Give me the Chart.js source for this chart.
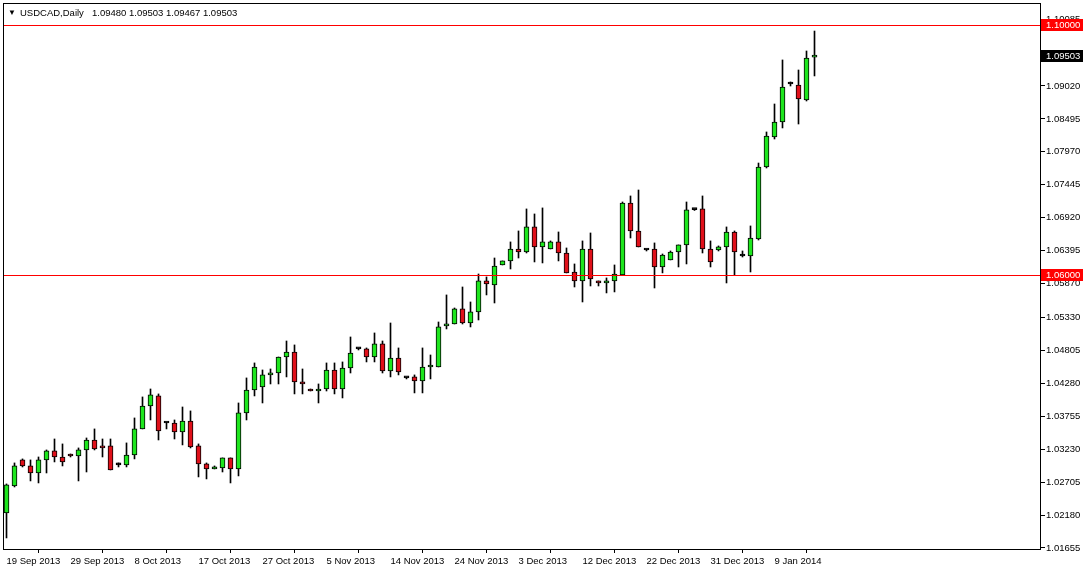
<!DOCTYPE html>
<html><head><meta charset="utf-8">
<script src="https://cdn.jsdelivr.net/npm/chart.js@4.4.1/dist/chart.umd.min.js"></script>
<style>html,body{margin:0;padding:0;background:#fff;overflow:hidden}#wrap{width:1085px;height:571px;position:relative}</style>
</head><body><div id="wrap"><canvas id="c" width="1085" height="571"></canvas></div>
<script>
const symbolTitle = "USDCAD,Daily";
const lastQuote = ["1.09480", "1.09503", "1.09467", "1.09503"];
const dates = ["19 Sep 2013","20 Sep 2013","22 Sep 2013","23 Sep 2013","24 Sep 2013","25 Sep 2013","26 Sep 2013","27 Sep 2013",
"29 Sep 2013","30 Sep 2013","1 Oct 2013","2 Oct 2013","3 Oct 2013","4 Oct 2013","6 Oct 2013","7 Oct 2013",
"8 Oct 2013","9 Oct 2013","10 Oct 2013","11 Oct 2013","13 Oct 2013","14 Oct 2013","15 Oct 2013","16 Oct 2013",
"17 Oct 2013","18 Oct 2013","20 Oct 2013","21 Oct 2013","22 Oct 2013","23 Oct 2013","24 Oct 2013","25 Oct 2013",
"27 Oct 2013","28 Oct 2013","29 Oct 2013","30 Oct 2013","31 Oct 2013","1 Nov 2013","3 Nov 2013","4 Nov 2013",
"5 Nov 2013","6 Nov 2013","7 Nov 2013","8 Nov 2013","10 Nov 2013","11 Nov 2013","12 Nov 2013","13 Nov 2013",
"14 Nov 2013","15 Nov 2013","17 Nov 2013","18 Nov 2013","19 Nov 2013","20 Nov 2013","21 Nov 2013","22 Nov 2013",
"24 Nov 2013","25 Nov 2013","26 Nov 2013","27 Nov 2013","28 Nov 2013","29 Nov 2013","1 Dec 2013","2 Dec 2013",
"3 Dec 2013","4 Dec 2013","5 Dec 2013","6 Dec 2013","8 Dec 2013","9 Dec 2013","10 Dec 2013","11 Dec 2013",
"12 Dec 2013","13 Dec 2013","15 Dec 2013","16 Dec 2013","17 Dec 2013","18 Dec 2013","19 Dec 2013","20 Dec 2013",
"22 Dec 2013","23 Dec 2013","24 Dec 2013","25 Dec 2013","26 Dec 2013","27 Dec 2013","29 Dec 2013","30 Dec 2013",
"31 Dec 2013","1 Jan 2014","2 Jan 2014","3 Jan 2014","5 Jan 2014","6 Jan 2014","7 Jan 2014","8 Jan 2014",
"9 Jan 2014","10 Jan 2014","12 Jan 2014","13 Jan 2014","14 Jan 2014","15 Jan 2014"];
const open = [1.02214,1.02644,1.03059,1.02963,1.02851,1.03059,1.03202,1.03106,
1.03154,1.03122,1.03218,1.03377,1.03258,1.03282,1.02979,1.02979,
1.03138,1.03553,1.03919,1.04079,1.03648,1.03648,1.03505,1.03680,
1.03282,1.02995,1.02915,1.02931,1.03091,1.02915,1.03808,1.04174,
1.04222,1.04414,1.04445,1.04700,1.04780,1.04302,1.04190,1.04158,
1.04190,1.04493,1.04190,1.04525,1.04828,1.04828,1.04700,1.04908,
1.04477,1.04684,1.04366,1.04382,1.04318,1.04541,1.04541,1.05195,
1.05226,1.05466,1.05242,1.05418,1.05912,1.05848,1.06167,1.06231,
1.06422,1.06374,1.06773,1.06454,1.06422,1.06534,1.06358,1.06055,
1.05912,1.06422,1.05912,1.05880,1.05912,1.06008,1.07155,1.06709,
1.06406,1.06422,1.06135,1.06247,1.06374,1.06486,1.07048,1.07060,
1.06422,1.06406,1.06454,1.06693,1.06310,1.06310,1.06581,1.07729,
1.08207,1.08446,1.09052,1.09036,1.08797,1.09480];
const high = [1.02676,1.03011,1.03075,1.03059,1.03106,1.03218,1.03393,1.03314,
1.03154,1.03250,1.03409,1.03553,1.03393,1.03393,1.03011,1.03330,
1.03728,1.04063,1.04190,1.04111,1.03664,1.03696,1.03903,1.03840,
1.03314,1.03011,1.02963,1.03091,1.03091,1.03967,1.04366,1.04605,
1.04493,1.04509,1.04700,1.04955,1.04892,1.04509,1.04190,1.04270,
1.04605,1.04605,1.04621,1.05019,1.04844,1.04844,1.05083,1.04955,
1.05242,1.04844,1.04382,1.04414,1.04844,1.04732,1.05258,1.05689,
1.05481,1.05816,1.05577,1.06023,1.05976,1.06278,1.06231,1.06534,
1.06709,1.07060,1.06980,1.07076,1.06550,1.06693,1.06438,1.06183,
1.06550,1.06677,1.05912,1.05960,1.06167,1.07171,1.07267,1.07362,
1.06422,1.06518,1.06342,1.06390,1.06486,1.07171,1.07060,1.07267,
1.06550,1.06470,1.06773,1.06709,1.06390,1.06789,1.07792,1.08287,
1.08733,1.09435,1.09084,1.09275,1.09578,1.09896];
const low = [1.01815,1.02628,1.02947,1.02724,1.02692,1.02851,1.03027,1.02963,
1.03106,1.02724,1.02867,1.03218,1.03106,1.02899,1.02947,1.02947,
1.03075,1.03553,1.03696,1.03377,1.03553,1.03393,1.03298,1.03250,
1.02788,1.02756,1.02915,1.02867,1.02692,1.02804,1.03696,1.04079,
1.03967,1.04270,1.04270,1.04382,1.04111,1.04111,1.04158,1.03967,
1.04158,1.04111,1.04047,1.04445,1.04812,1.04621,1.04621,1.04445,
1.04382,1.04414,1.04350,1.04127,1.04127,1.04350,1.04541,1.05147,
1.05226,1.05226,1.05179,1.05290,1.05689,1.05561,1.06167,1.06103,
1.06278,1.06358,1.06215,1.06199,1.06422,1.06231,1.06040,1.05816,
1.05577,1.05832,1.05832,1.05721,1.05737,1.06008,1.06597,1.06454,
1.06390,1.05800,1.06040,1.06247,1.06135,1.06183,1.07036,1.06358,
1.06135,1.06390,1.05880,1.06008,1.06294,1.06055,1.06565,1.07713,
1.08175,1.08351,1.09020,1.08414,1.08781,1.09180];
const close = [1.02660,1.02963,1.02963,1.02851,1.03059,1.03202,1.03106,1.03027,
1.03122,1.03218,1.03377,1.03234,1.03250,1.02899,1.02979,1.03138,
1.03553,1.03919,1.04095,1.03521,1.03648,1.03505,1.03680,1.03266,
1.02995,1.02915,1.02947,1.03091,1.02915,1.03808,1.04174,1.04541,
1.04414,1.04445,1.04700,1.04780,1.04302,1.04270,1.04158,1.04190,
1.04493,1.04190,1.04525,1.04764,1.04828,1.04700,1.04908,1.04477,
1.04684,1.04461,1.04366,1.04318,1.04541,1.04549,1.05179,1.05226,
1.05466,1.05242,1.05418,1.05912,1.05864,1.06151,1.06231,1.06422,
1.06374,1.06773,1.06454,1.06534,1.06534,1.06358,1.06040,1.05912,
1.06422,1.05944,1.05880,1.05912,1.06023,1.07155,1.06709,1.06454,
1.06406,1.06135,1.06326,1.06374,1.06486,1.07044,1.07048,1.06422,
1.06215,1.06454,1.06693,1.06374,1.06310,1.06597,1.07729,1.08223,
1.08446,1.09004,1.09052,1.08813,1.09466,1.09503];
const priceTicks = [1.01655,1.02180,1.02705,1.03230,1.03755,1.04280,1.04805,1.05330,1.05870,1.06395,1.06920,1.07445,1.07970,1.08495,1.09020,1.10085];
const levelLines = [1.10000, 1.06000];
const dateTickEvery = 8;

const UP = '#1ee61e', DOWN = '#e0101a', INK = '#000000', LEVEL = '#ff0000';
const FONT = {family: "'Liberation Sans', Arial, sans-serif", size: 9.5};

const idx = dates.map((d, i) => i);
const wickData = idx.map(i => ({x: i, y: [low[i], high[i]]}));
const bodyData = idx.map(i => ({x: i, y: [open[i], close[i]]}));
const bodyColors = idx.map(i => close[i] > open[i] + 0.00005 ? UP : (close[i] < open[i] - 0.00005 ? DOWN : INK));

const noPad = s => { s.paddingTop = 0; s.paddingBottom = 0; s.paddingLeft = 0; s.paddingRight = 0; };

const overlay = {
  id: 'overlay',
  afterDatasetsDraw(chart) {
    const {ctx, chartArea: a, scales: {y}} = chart;
    ctx.save();
    ctx.strokeStyle = LEVEL; ctx.lineWidth = 1;
    levelLines.forEach(v => {
      const py = Math.round(y.getPixelForValue(v)) + 0.5;
      ctx.beginPath(); ctx.moveTo(a.left, py); ctx.lineTo(a.right, py); ctx.stroke();
    });
    ctx.restore();
  },
  afterDraw(chart) {
    const {ctx, chartArea: a, scales: {y}} = chart;
    ctx.save();
    ctx.strokeStyle = INK; ctx.lineWidth = 1;
    ctx.strokeRect(a.left - 0.5, a.top - 0.5, a.right - a.left + 1, a.bottom - a.top + 1);
    const box = (v, bg) => {
      const py = Math.round(y.getPixelForValue(v));
      ctx.fillStyle = bg;
      ctx.fillRect(a.right + 1, py - 6, 42, 12);
      ctx.fillStyle = '#ffffff';
      ctx.font = FONT.size + 'px ' + FONT.family;
      ctx.textBaseline = 'middle'; ctx.textAlign = 'left';
      ctx.fillText(v.toFixed(5), a.right + 6, py + 0.5);
    };
    levelLines.forEach(v => box(v, '#ff0000'));
    box(close[close.length - 1], '#000000');
    ctx.fillStyle = INK;
    ctx.textBaseline = 'middle'; ctx.textAlign = 'left';
    ctx.font = '8px ' + FONT.family;
    ctx.fillText('\u25BC', 8, 13);
    ctx.font = FONT.size + 'px ' + FONT.family;
    ctx.fillText(symbolTitle, 20, 13);
    ctx.fillText(lastQuote.join(' '), 92, 13);
    ctx.restore();
  }
};

new Chart(document.getElementById('c'), {
  type: 'bar',
  data: {
    datasets: [
      {data: wickData, backgroundColor: INK, barThickness: 1, grouped: false, order: 2, borderWidth: 0},
      {data: bodyData, backgroundColor: bodyColors, borderColor: INK, borderWidth: 1, borderSkipped: false,
       barThickness: 5, minBarLength: 2, grouped: false, order: 1}
    ]
  },
  options: {
    responsive: false, animation: false, devicePixelRatio: 1,
    layout: {padding: {left: 4, top: 4, right: 0, bottom: 0}},
    plugins: {legend: {display: false}, tooltip: {enabled: false}},
    scales: {
      x: {
        type: 'linear', min: -0.3125, max: 129.1875, offset: false,
        afterBuildTicks: s => { s.ticks = idx.filter(i => i % dateTickEvery === 0).map(v => ({value: v})); },
        afterFit: s => { s.height = 22; noPad(s); },
        ticks: {autoSkip: false, maxRotation: 0, minRotation: 0, align: 'start', padding: 3, color: INK, font: FONT,
                callback: v => dates[v] || ''},
        grid: {drawOnChartArea: false, drawTicks: true, tickLength: 4, color: INK},
        border: {display: true, color: INK}
      },
      y: {
        type: 'linear', position: 'right', min: 1.01639, max: 1.10327,
        afterBuildTicks: s => { s.ticks = priceTicks.map(v => ({value: v})); },
        afterFit: s => { s.width = 45; noPad(s); },
        ticks: {autoSkip: false, padding: 1, color: INK, font: FONT, callback: v => Number(v).toFixed(5)},
        grid: {drawOnChartArea: false, drawTicks: true, tickLength: 5, color: INK},
        border: {display: true, color: INK}
      }
    }
  },
  plugins: [overlay]
});
</script>
</body></html>
